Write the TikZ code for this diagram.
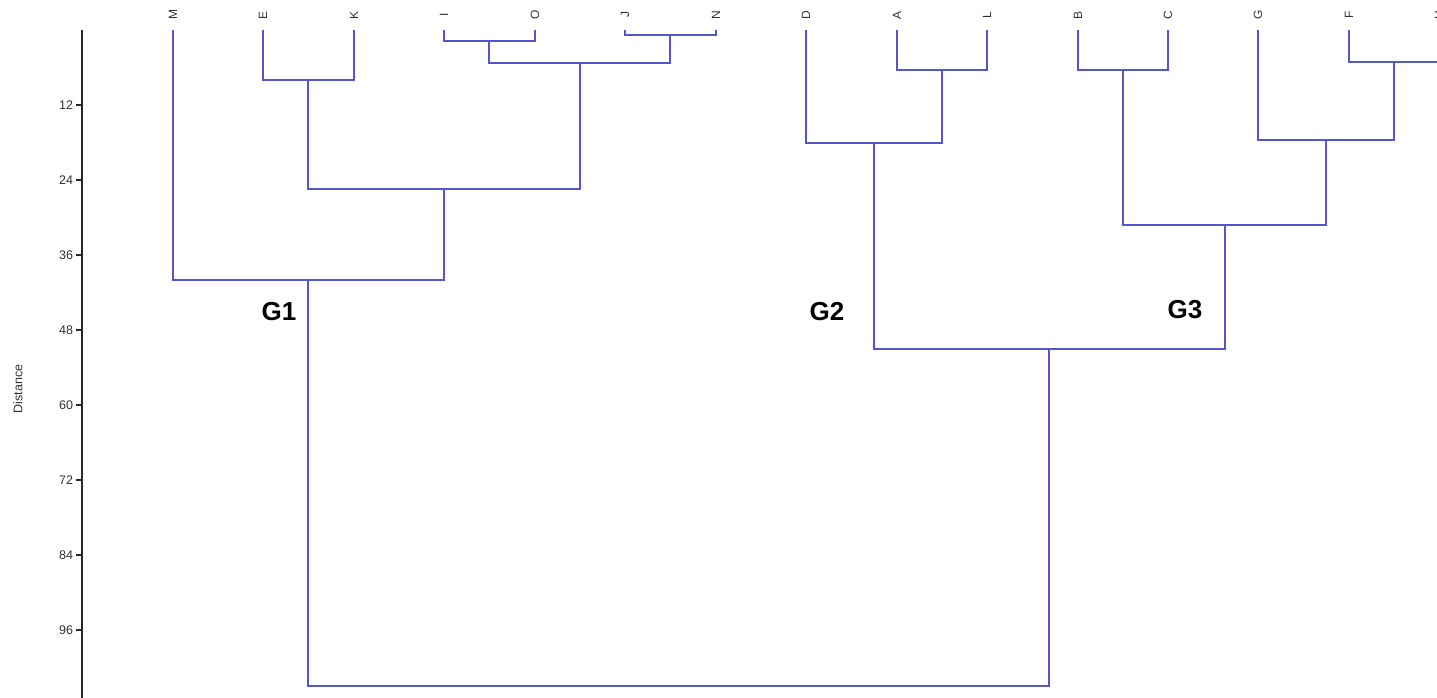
\documentclass[tikz,border=0pt]{standalone}
\usepackage{fontspec}
\setmainfont{Liberation Sans}
\definecolor{linkblue}{RGB}{86,86,204}
\definecolor{axisgray}{RGB}{40,40,40}
\definecolor{labelgray}{RGB}{50,50,50}
\tikzset{
  link/.style={draw=linkblue, line width=2pt, line join=miter},
  axisline/.style={draw=axisgray, line width=1.8pt},
  leaflabel/.style={rotate=90, inner sep=0pt, text=labelgray, font=\fontsize{12}{12}\selectfont},
  ticklabel/.style={anchor=east, inner sep=0pt, text=labelgray, font=\fontsize{12.5}{12.5}\selectfont},
  grouplabel/.style={inner sep=0pt, font=\fontsize{26}{26}\selectfont\bfseries},
}
\begin{document}
\begin{tikzpicture}[x=1pt, y=-1pt]
\useasboundingbox (0,0) rectangle (1437,698);
\clip (0,0) rectangle (1437,698);

% distance axis
\coordinate (axtop) at (82,30);
\coordinate (axbot) at (82,700);
\draw[axisline] (axtop) -- (axbot);
\foreach \d in {12,24,36,48,60,72,84,96} {
  \coordinate (tick\d) at (82,{30+6.25*\d});
  \draw[axisline] (tick\d) -- ++(-6,0) node[ticklabel, xshift=-2pt] (tl\d) {\d};
}
\node[rotate=90, inner sep=0pt, text=labelgray, font=\fontsize{12.5}{12.5}\selectfont] (axname) at (18,389) {Distance};

% leaves
\foreach \n/\x in {M/173,E/263,K/354,I/444,O/535,J/625,N/716,D/806,A/897,L/987,B/1078,C/1168,G/1258,F/1349,H/1439} {
  \coordinate (\n) at (\x,30);
  \node[leaflabel] (lab\n) at (\x,15) {\n};
}

% merge points
\coordinate (IO) at (489,41);
\coordinate (JN) at (670,35);
\coordinate (IOJN) at (580,63);
\coordinate (EK) at (308,80);
\coordinate (EKIOJN) at (444,189);
\coordinate (grpA) at (308,280);
\coordinate (AL) at (942,70);
\coordinate (DAL) at (874,143);
\coordinate (BC) at (1123,70);
\coordinate (FH) at (1394,62);
\coordinate (GFH) at (1326,140);
\coordinate (BCGFH) at (1225,225);
\coordinate (grpBC) at (1049,349);
\coordinate (root) at (679,686);

% links
\draw[link] (I) |- (IO) -| (O);
\draw[link] (J) |- (JN) -| (N);
\draw[link] (IO) |- (IOJN) -| (JN);
\draw[link] (E) |- (EK) -| (K);
\draw[link] (EK) |- (EKIOJN) -| (IOJN);
\draw[link] (M) |- (grpA) -| (EKIOJN);
\draw[link] (A) |- (AL) -| (L);
\draw[link] (D) |- (DAL) -| (AL);
\draw[link] (B) |- (BC) -| (C);
\draw[link] (F) |- (FH) -| (H);
\draw[link] (G) |- (GFH) -| (FH);
\draw[link] (BC) |- (BCGFH) -| (GFH);
\draw[link] (DAL) |- (grpBC) -| (BCGFH);
\draw[link] (grpA) |- (root) -| (grpBC);

% group labels
\node[grouplabel] (g1) at (279,312) {G1};
\node[grouplabel] (g2) at (827,312) {G2};
\node[grouplabel] (g3) at (1185,310) {G3};
\end{tikzpicture}
\end{document}
